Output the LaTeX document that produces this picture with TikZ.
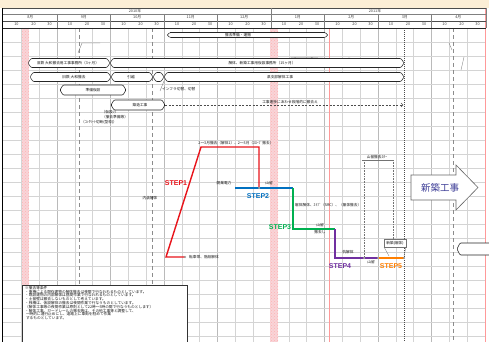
\documentclass[tikz,border=0pt]{standalone}
\usepackage{fontspec}
\setmainfont{Liberation Sans}
\newfontfamily\jp{Noto Sans CJK JP}
\usetikzlibrary{patterns}
\definecolor{beige}{RGB}{252,238,214}
\definecolor{pinkband}{RGB}{248,212,216}
\definecolor{stepred}{RGB}{232,20,27}
\definecolor{stepblue}{RGB}{0,112,192}
\definecolor{stepgreen}{RGB}{0,176,80}
\definecolor{steppurple}{RGB}{112,48,160}
\definecolor{steporange}{RGB}{255,127,0}
\definecolor{arrowtext}{RGB}{60,60,150}
\tikzset{
  tinytext/.style={font=\jp\fontsize{3.7}{4}\selectfont, inner sep=0pt, text=black!90},
  hdrtext/.style={font=\jp\fontsize{3.8}{4}\selectfont, inner sep=0pt, text=black!75},
  steplabel/.style={font=\bfseries\fontsize{7}{8}\selectfont, inner sep=0pt},
  chartline/.style={line width=1.4pt, line join=miter},
  gridline/.style={black!17, line width=0.5pt},
  monthline/.style={black!27, line width=0.5pt},
  barshape/.style={draw=black!85, fill=white, line width=0.55pt, rounded corners=1pt},
  faint/.style={black!55, line width=0.3pt},
  marker/.style={draw=black!60, fill=white, line width=0.3pt},
}
\newcommand\ganttbar[7]{%
  \draw[barshape] (#2,#4) -- (#2+3,#4-#5) -- (#3-3,#4-#5) -- (#3,#4) -- (#3-3,#4+#5) -- (#2+3,#4+#5) -- cycle;
  \node[tinytext] (#1) at (#6,#4) {#7};
}
\begin{document}
\begin{tikzpicture}[x=1pt,y=-1pt]
\useasboundingbox (0,0) rectangle (489,342);
\fill[white] (0,0) rectangle (489,342);
% top band
\fill[beige] (0,0) rectangle (489,8);
% grid
\foreach \k in {1,...,26}{
  \pgfmathsetmacro\gx{3.5+17.8333*\k}
  \draw[gridline] (\gx,28) -- (\gx,342);
}
\foreach \k in {1,...,8}{
  \pgfmathsetmacro\gx{3.5+53.5*\k}
  \draw[monthline] (\gx,28) -- (\gx,342);
}
\foreach \j in {1,...,22}{
  \draw[gridline] (3,28+14*\j) -- (486,28+14*\j);
}
% pink bands
\fill[pinkband] (22,28) rectangle (29,342);
\fill[pinkband] (270,28) rectangle (278,342);
\fill[pattern=crosshatch dots, pattern color=red!30] (22,28) rectangle (29,342);
\fill[pattern=crosshatch dots, pattern color=red!30] (270,28) rectangle (278,342);
\draw[red!40, line width=0.6pt] (329,28) -- (329,342);
\draw[red!40, line width=0.8pt] (485.5,8) -- (485.5,342);
% special verticals
\draw[black!45, line width=0.7pt, dash pattern=on 4pt off 3pt] (79,28) -- (79,342);
\draw[black!45, line width=0.7pt, dash pattern=on 4pt off 3pt] (152,28) -- (152,342);
\draw[black!45, line width=0.7pt, dash pattern=on 4pt off 3pt] (453,28) -- (453,342);
\draw[black!70, line width=0.6pt, dash pattern=on 1pt off 1pt] (404,28) -- (404,342);
% header
\draw[black!70, line width=0.5pt] (3,8) -- (486,8);
\draw[black!50, line width=0.4pt] (3,14) -- (486,14);
\draw[black!70, line width=0.5pt] (3,21) -- (486,21);
\draw[black!85, line width=0.7pt] (3,28) -- (486,28);
\draw[black!50, line width=0.4pt] (271,8) -- (271,14);
\draw[black!50, line width=0.4pt] (486,8) -- (486,28);
\foreach \k in {1,...,8}{
  \pgfmathsetmacro\gx{3.5+53.5*\k}
  \draw[black!50, line width=0.4pt] (\gx,14) -- (\gx,28);
}
\node[hdrtext] (y2010) at (135,11) {2010年};
\node[hdrtext] (y2011) at (375,11) {2011年};
\foreach \m [count=\k from 0] in {8,9,10,11,12,1,2,3,4}{
  \pgfmathsetmacro\gx{3.5+53.5*\k}
  \node[hdrtext] (mon\k) at (\gx+26.75,17.5) {\m 月};
  \node[hdrtext] (da\k) at (\gx+13,24.5) {10};
  \node[hdrtext] (db\k) at (\gx+30,24.5) {20};
  \node[hdrtext] (dc\k) at (\gx+46,24.5) {30};
}
% left frame
\draw[black, line width=0.9pt] (2.5,8) -- (2.5,342);
% faint strokes
\draw[faint] (78,53) -- (82,43) -- (100,43);
\draw[faint] (290,58) .. controls (310,56) and (330,60) .. (350,58);
\draw[faint] (449,43) -- (452,50);
\draw[faint] (464,57) -- (461,70);
% gantt bars
\ganttbar{b1}{167}{328}{35}{2.5}{238}{撤去準備・運搬}
\draw[black!85, line width=0.8pt] (170,32.5) -- (325,32.5);
\ganttbar{b3a}{28}{110}{63}{4.5}{68}{旧鉄 大和撤去用工事事務所（3ヶ月）}
\ganttbar{b3b}{110}{404}{63}{4.5}{262}{解体、新築工事用仮設事務所（15ヶ月）}
\ganttbar{b4a}{30}{111}{77}{4.5}{74}{旧鉄 大和撤去}
\ganttbar{b4b}{111}{153}{77}{4.5}{131}{引越}
\ganttbar{b4c}{153}{164}{77}{4.5}{158.5}{}
\ganttbar{b4d}{164}{404}{77}{4.5}{280}{県支部解体工事}
\ganttbar{b5}{60}{126}{90}{5}{93}{準備仮設}
\ganttbar{b6}{111}{165}{105}{5}{140}{築造工事}
\draw[black!70, line width=0.4pt, dash pattern=on 2pt off 1.5pt] (165,105) -- (403,105);
\draw[black!70, line width=0.4pt] (401,103) -- (403,105) -- (401,107);
\node[tinytext] (prog) at (290,102.5) {工事進捗にあわせ段階的に撤去え};
\draw[faint] (160,91) -- (164,81);
\node[tinytext, anchor=west] (infra) at (162,89) {インフラ切替、切替};
\node[tinytext] (n1) at (110,112) {（仮設ｿ）};
\node[tinytext] (n2) at (115,117) {（撤去準備等）};
\node[tinytext] (n3) at (99,122.5) {（ｺﾝｸﾘｰﾄ切断(型枠)）};
% bottom right bar
\draw[barshape] (492,243) -- (460,243) -- (457,249) -- (460,255) -- (492,255);
% callouts
\draw[faint, dash pattern=on 0.8pt off 0.8pt] (364,160) -- (364,257);
\draw[faint, dash pattern=on 0.8pt off 0.8pt] (393,160) -- (393,240);
\draw[faint] (362,160) -- (393,160);
\node[tinytext] (yamadome) at (377,157) {山留撤去ｽﾀｰ};
\draw[faint, fill=white] (384,239) rectangle (406,247);
\draw[faint] (384,247) -- (389,256);
\draw[faint] (406,247) -- (404,256);
\node[tinytext] (shinchiku) at (395,243) {新築(躯体)};
% big arrow
\draw[black!60, line width=0.6pt, fill=white] (411,175) -- (456,175) -- (456,165) -- (478,187.5) -- (456,210) -- (456,200) -- (411,200) -- cycle;
\node[font=\jp\fontsize{9.5}{10}\selectfont, text=arrowtext, inner sep=0pt] (newwork) at (440,187.5) {新築工事};
% note box
\draw[black!80, line width=0.6pt, fill=white] (22,285) rectangle (187,345);
\node[font=\jp\fontsize{3.7}{3.8}\selectfont, text=black!90, inner sep=0pt, anchor=north west, align=left] (note) at (25,286) {※撤去等条件\\
・重機による既存建物の解体撤去は夜間で行なわれるものとしています。\\
・既設建物の内部解体は昼間作業で行なわれるものとしています。\\
・土留壁は撤去しないものとして考えています。\\
・桟橋は、仮設解体の撤去は夜間作業で行なうものとしています。\\
（解体工事等の夜間作業は原則として22時〜5時の間で行なうものとします）\\
・解体工事、ガードレールの撤去等は、その他工事等と調整して、\\
\ 一時的に通行止めにし、道路上に車両を駐めて作業\\
\ するものとしています。};
% chart points
\coordinate (p0) at (185,257);
\coordinate (p1) at (166,257);
\coordinate (p2) at (201,147);
\coordinate (p3) at (259,147);
\coordinate (p4) at (259,188);
\coordinate (q0) at (235,188);
\coordinate (q1) at (293,188);
\coordinate (r1) at (293,229);
\coordinate (r2) at (335,229);
\coordinate (s1) at (335,258);
\coordinate (s2) at (378,258);
\coordinate (t1) at (404,258);
\draw[chartline, stepred] (p0) -- (p1) -- (p2) -- (p3) -- (p4);
\draw[chartline, stepblue] (q0) -- (q1);
\draw[chartline, stepgreen] (q1) -- (r1) -- (r2);
\draw[chartline, steppurple] (r2) -- (s1) -- (s2);
\draw[chartline, steporange] (s2) -- (t1);
\foreach \p in {p0,p4,s2,t1}{ \draw[marker] (\p) circle (1); }
\draw[marker] (364,258) circle (1);
% chart labels
\node[tinytext] (l1) at (236,143.5) {2〜3月撤去（解体1）、2〜3月（ｽﾛｰﾌﾟ撤去）};
\node[tinytext] (l2) at (150,198) {内装解体};
\node[tinytext, anchor=west] (l3) at (189,257) {転車帯、階段解体};
\node[tinytext] (l4) at (224,183.5) {開業電力};
\node[tinytext] (l5) at (269,183.5) {山留};
\node[tinytext, anchor=west] (l6) at (295,205) {躯体解体、ｽﾗﾌﾞ（SRC）、（躯体撤去）};
\node[tinytext] (l7) at (320,225.5) {山留};
\node[tinytext] (l8) at (320,232) {撤去し};
\node[tinytext] (l9) at (348,252.5) {杭解体};
\node[tinytext] (l10) at (371,262) {山留};
\node[steplabel, text=stepred] (st1) at (176,183) {STEP1};
\node[steplabel, text=stepblue] (st2) at (258,196) {STEP2};
\node[steplabel, text=stepgreen] (st3) at (280,227) {STEP3};
\node[steplabel, text=steppurple] (st4) at (340,266) {STEP4};
\node[steplabel, text=steporange] (st5) at (391,266) {STEP5};
\end{tikzpicture}
\end{document}
